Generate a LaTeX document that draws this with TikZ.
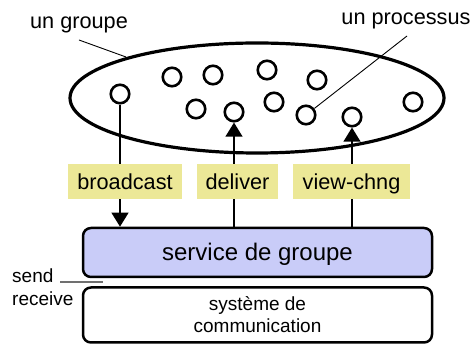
\documentclass[tikz,border=0pt]{standalone}
\usepackage{fontspec}
\setmainfont{Liberation Sans}
\usetikzlibrary{arrows.meta}
\definecolor{labyellow}{HTML}{ECE897}
\definecolor{svcblue}{HTML}{C9CCF8}
\definecolor{leadgray}{HTML}{707070}
\begin{document}
\begin{tikzpicture}[x=1pt,y=-1pt,
  proc/.style={circle,draw,line width=2.6pt,minimum size=18.5pt,inner sep=0pt},
  lab/.style={fill=labyellow,minimum height=35pt,inner sep=0pt,text height=15.5pt,text depth=0pt,font=\fontsize{21.7}{26}\selectfont},
  txt/.style={inner sep=0pt,anchor=base,font=\fontsize{21.7}{26}\selectfont},
  small/.style={inner sep=0pt,anchor=base west,font=\fontsize{19}{22}\selectfont},
  layerbox/.style={draw,line width=2.5pt,rounded corners=8pt,minimum width=349pt,inner sep=0pt},
  arr/.style={line width=2.5pt,-{Triangle[width=16.5pt,length=14pt]}},
  lead/.style={line width=0.9pt}]
\useasboundingbox (0,0) rectangle (475,344);
% group ellipse
\draw[line width=3.2pt] (257,98) ellipse [x radius=187, y radius=55];
% processes
\node[proc] (c1) at (120,94) {};
\node[proc] (c2) at (172,77) {};
\node[proc] (c3) at (213,75) {};
\node[proc] (c4) at (196,109) {};
\node[proc] (c5) at (234,112) {};
\node[proc] (c6) at (267,70) {};
\node[proc] (c7) at (317,80) {};
\node[proc] (c8) at (274,102) {};
\node[proc] (c9) at (306,115) {};
\node[proc] (c10) at (352,117) {};
\node[proc] (c11) at (413,102) {};
% captions
\node[txt] (ug) at (79,29) {un groupe};
\node[txt] (up) at (406,25) {un processus};
\coordinate (ugs) at (79,40);
\coordinate (uge) at (126,57);
\coordinate (ups) at (407,36);
\draw[lead] (ugs) -- (uge);
\draw[lead] (ups) -- (c9);
% layers
\node[layerbox,fill=svcblue,minimum height=49pt,text height=16pt,text depth=0pt,font=\fontsize{24}{28}\selectfont] (svc) at (257.5,252.5) {service de groupe};
\node[layerbox,minimum height=55pt,align=center,font=\fontsize{19}{22}\selectfont] (com) at (257.5,315) {système de\\communication};
% arrows
\draw[arr] (c1) -- (c1 |- svc.north);
\draw[arr] (c5 |- svc.north) -- (c5);
\draw[arr] (c10 |- svc.north) -- (c10);
% primitive labels
\node[lab,minimum width=114pt] (bc) at (125,181.5) {broadcast};
\node[lab,minimum width=81pt] (dl) at (237.5,181.5) {deliver};
\node[lab,minimum width=117pt] (vc) at (351.5,181.5) {view-chng};
% send / receive
\node[small] (snd) at (12,283) {send};
\node[small] (rcv) at (12,306) {receive};
\coordinate (gl1) at (60,282);
\coordinate (gl2) at (103,282);
\draw[leadgray,line width=1.4pt] (gl1) -- (gl2);
\end{tikzpicture}
\end{document}
